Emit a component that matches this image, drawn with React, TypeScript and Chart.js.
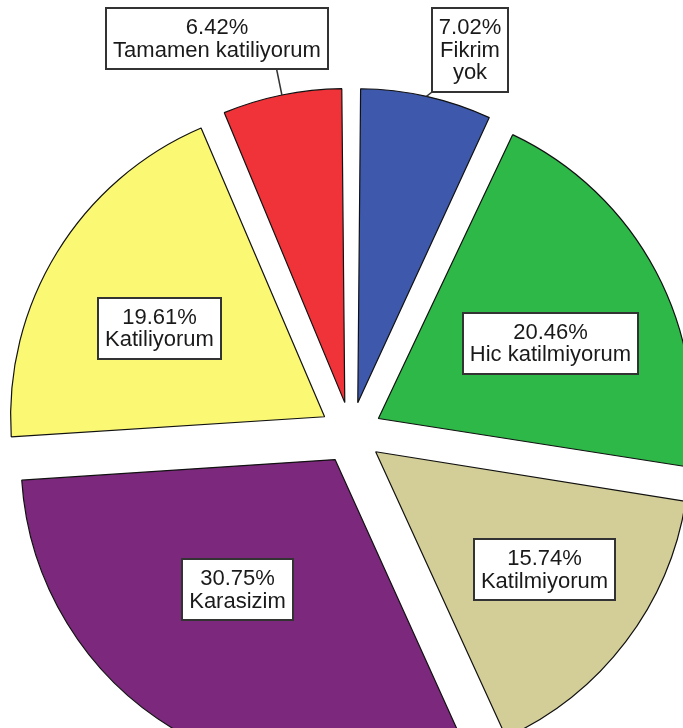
import React, { useEffect, useRef } from "react";
import { Chart, registerables } from "chart.js";

Chart.register(...registerables);

// ---- data ----
const categories: string[] = [
  "Fikrim yok",
  "Hic katilmiyorum",
  "Katilmiyorum",
  "Karasizim",
  "Katiliyorum",
  "Tamamen katiliyorum",
];
const percents: number[] = [7.02, 20.46, 15.74, 30.75, 19.61, 6.42];

// ---- style ----
const sliceColors = ["#3E58AC", "#2EB848", "#D3CE97", "#7C287D", "#FBF873", "#EF3338"];
const wrapWords = [true, false, false, false, false, false];
const labelFrac = [1.18, 0.598, 0.655, 0.518, 0.596, 1.23];
const labelShiftDeg = [5.0, 4.2, -2.4, 6.1, -3.3, -7.8];
const labelOutside = [true, false, false, false, false, true];

const CANVAS_W = 702;
const CANVAS_H = 866;
const BASE_R = 314;
const OFFSET = 124; // Chart.js translates by offset/4 -> 31px explode
const FONT_SIZE = 22;
const LINE_H = 22.5;
const PAD_X = 7;
const PAD_Y = 8;

const radiusFix = {
  id: "radiusFix",
  beforeDatasetsDraw(chart: any) {
    const meta = chart.getDatasetMeta(0);
    meta.data.forEach((arc: any) => {
      const fix = 1 - Math.sin(Math.min(Math.PI, arc.circumference || 0));
      arc.outerRadius = BASE_R - (OFFSET / 4) * fix;
    });
  },
};

const boxLabels = {
  id: "boxLabels",
  afterDatasetsDraw(chart: any) {
    const ctx: CanvasRenderingContext2D = chart.ctx;
    const meta = chart.getDatasetMeta(0);
    ctx.save();
    ctx.font = `${FONT_SIZE}px 'Liberation Sans', Arial, sans-serif`;
    ctx.textAlign = "center";
    ctx.textBaseline = "middle";
    meta.data.forEach((arc: any, i: number) => {
      const mid = (arc.startAngle + arc.endAngle) / 2;
      const ax = arc.x + Math.cos(mid) * (OFFSET / 4);
      const ay = arc.y + Math.sin(mid) * (OFFSET / 4);
      const a = mid + (labelShiftDeg[i] * Math.PI) / 180;
      const cx = ax + Math.cos(a) * labelFrac[i] * BASE_R;
      const cy = ay + Math.sin(a) * labelFrac[i] * BASE_R;
      const lines = [percents[i].toFixed(2) + "%"].concat(
        wrapWords[i] ? categories[i].split(" ") : [categories[i]]
      );
      const tw = Math.max(...lines.map((l) => ctx.measureText(l).width));
      const bw = Math.round(tw + 2 * PAD_X);
      const bh = Math.round(lines.length * LINE_H + 2 * PAD_Y);
      const left = Math.round(cx - bw / 2);
      const top = Math.round(cy - bh / 2);

      if (labelOutside[i]) {
        const px = ax + Math.cos(mid) * BASE_R;
        const py = ay + Math.sin(mid) * BASE_R;
        const bottom = top + bh;
        const t = (bottom - py) / Math.sin(mid);
        let ex = px + Math.cos(mid) * t;
        ex = Math.max(left, Math.min(left + bw, ex));
        ctx.strokeStyle = "#333";
        ctx.lineWidth = 1.5;
        ctx.beginPath();
        ctx.moveTo(px, py);
        ctx.lineTo(ex, bottom);
        ctx.stroke();
      }

      ctx.fillStyle = "#ffffff";
      ctx.fillRect(left, top, bw, bh);
      ctx.strokeStyle = "#333333";
      ctx.lineWidth = 2;
      ctx.strokeRect(left, top, bw, bh);

      ctx.fillStyle = "#1a1a1a";
      const startY = cy - ((lines.length - 1) * LINE_H) / 2;
      lines.forEach((l, k) => {
        ctx.fillText(l, left + bw / 2, startY + k * LINE_H + 1);
      });
    });
    ctx.restore();
  },
};

export default function App() {
  const ref = useRef<HTMLCanvasElement | null>(null);

  useEffect(() => {
    if (!ref.current) return;
    const chart = new Chart(ref.current, {
      type: "pie",
      data: {
        labels: categories,
        datasets: [
          {
            data: percents,
            backgroundColor: sliceColors,
            borderColor: "#111111",
            borderWidth: 1.2,
            offset: OFFSET,
          } as any,
        ],
      },
      options: {
        responsive: false,
        animation: false,
        radius: BASE_R,
        layout: { padding: 0 },
        plugins: {
          legend: { display: false },
          tooltip: { enabled: false },
          title: { display: false },
        },
        events: [],
      } as any,
      plugins: [radiusFix, boxLabels],
    });
    return () => chart.destroy();
  }, []);

  return (
    <div
      style={{
        position: "absolute",
        left: 0,
        top: 0,
        width: 683,
        height: 728,
        overflow: "hidden",
        background: "#ffffff",
      }}
    >
      <canvas
        ref={ref}
        width={CANVAS_W}
        height={CANVAS_H}
        style={{ display: "block", width: CANVAS_W, height: CANVAS_H }}
      />
    </div>
  );
}
